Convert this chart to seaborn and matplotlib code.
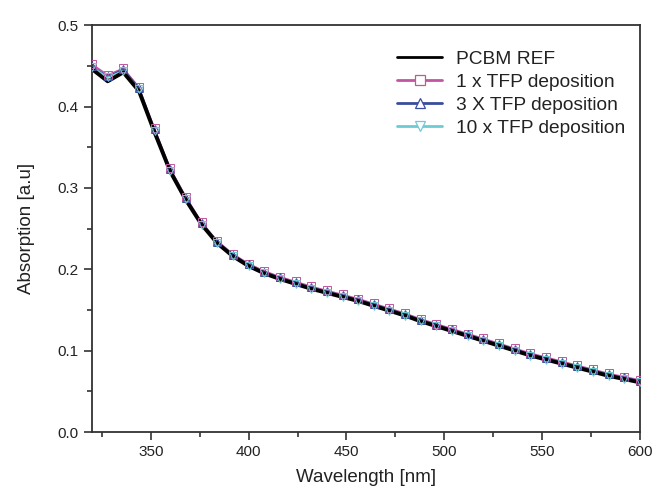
import matplotlib
matplotlib.use("Agg")
import matplotlib.pyplot as plt
import seaborn as sns
import pandas as pd
from matplotlib.ticker import MultipleLocator, FormatStrFormatter
from matplotlib.lines import Line2D

sns.set_theme(style="white")
plt.rcParams['font.family'] = ['Liberation Sans', 'DejaVu Sans']

wavelength = [320, 328, 336, 344, 352, 360, 368, 376, 384, 392, 400, 408, 416, 424,
              432, 440, 448, 456, 464, 472, 480, 488, 496, 504, 512, 520, 528, 536,
              544, 552, 560, 568, 576, 584, 592, 600]
pcbm_ref = [0.446, 0.431, 0.442, 0.419, 0.368, 0.320, 0.285, 0.255, 0.232, 0.216,
            0.204, 0.195, 0.188, 0.182, 0.176, 0.171, 0.166, 0.161, 0.155, 0.149,
            0.143, 0.136, 0.130, 0.124, 0.118, 0.112, 0.106, 0.100, 0.094, 0.089,
            0.084, 0.079, 0.074, 0.069, 0.065, 0.061]
tfp_1x = [0.452, 0.439, 0.447, 0.424, 0.373, 0.324, 0.289, 0.258, 0.235, 0.219,
          0.207, 0.198, 0.191, 0.185, 0.179, 0.174, 0.169, 0.164, 0.158, 0.152,
          0.146, 0.139, 0.133, 0.127, 0.121, 0.115, 0.109, 0.103, 0.097, 0.092,
          0.087, 0.082, 0.077, 0.072, 0.068, 0.064]
tfp_3x = [0.450, 0.437, 0.446, 0.423, 0.372, 0.323, 0.288, 0.257, 0.234, 0.218,
          0.206, 0.197, 0.190, 0.184, 0.178, 0.173, 0.168, 0.163, 0.157, 0.151,
          0.145, 0.138, 0.132, 0.126, 0.120, 0.114, 0.108, 0.102, 0.096, 0.091,
          0.086, 0.081, 0.076, 0.071, 0.067, 0.063]
tfp_10x = [0.449, 0.436, 0.444, 0.421, 0.370, 0.321, 0.286, 0.255, 0.232, 0.216,
           0.204, 0.195, 0.188, 0.182, 0.176, 0.171, 0.166, 0.161, 0.155, 0.149,
           0.143, 0.136, 0.130, 0.124, 0.118, 0.112, 0.106, 0.100, 0.094, 0.089,
           0.084, 0.079, 0.074, 0.069, 0.065, 0.061]

labels = ["PCBM REF", "1 x TFP deposition", "3 X TFP deposition", "10 x TFP deposition"]
colors = ["black", "#c2559f", "#3a4c9e", "#6ccbd3"]
markers = [None, "s", "^", "v"]

fig = plt.figure(figsize=(6.54, 4.93), dpi=100)
ax = fig.add_axes([0.1407, 0.1237, 0.8379, 0.8253])

series = [pcbm_ref, tfp_1x, tfp_3x, tfp_10x]
frames = [pd.DataFrame({"x": wavelength, "y": v}) for v in series]

# coloured lines underneath
for i in range(1, 4):
    sns.lineplot(data=frames[i], x="x", y="y", ax=ax, color=colors[i], lw=1.0,
                 legend=False, zorder=2)
# black reference line
sns.lineplot(data=frames[0], x="x", y="y", ax=ax, color=colors[0], lw=2.8,
             legend=False, zorder=3)
# hollow markers on top
for i in range(1, 4):
    sns.lineplot(data=frames[i], x="x", y="y", ax=ax, color=colors[i],
                 linestyle="", marker=markers[i], markersize=5.2,
                 markerfacecolor="none", markeredgecolor=colors[i],
                 markeredgewidth=0.7, legend=False, zorder=4 + i)
    ax.lines[-1].set_markerfacecolor("none")

handles = [Line2D([], [], color=colors[0], lw=2.0)]
for i in range(1, 4):
    handles.append(Line2D([], [], color=colors[i], lw=2.0, marker=markers[i],
                          markersize=7, markerfacecolor="white",
                          markeredgecolor=colors[i], markeredgewidth=0.9))

ax.set_xlim(320, 600)
ax.set_ylim(0.0, 0.5)
ax.xaxis.set_major_locator(MultipleLocator(50))
ax.xaxis.set_minor_locator(MultipleLocator(25))
ax.yaxis.set_major_locator(MultipleLocator(0.1))
ax.yaxis.set_minor_locator(MultipleLocator(0.05))
ax.yaxis.set_major_formatter(FormatStrFormatter('%.1f'))
ax.tick_params(axis='both', which='major', direction='out', length=5.5, width=1.2,
               labelsize=11, pad=4, bottom=True, left=True, color='#333333',
               labelcolor='#222222')
ax.tick_params(axis='both', which='minor', direction='out', length=3.5, width=1.2,
               bottom=True, left=True, color='#333333')
for sp in ax.spines.values():
    sp.set_color('#333333')
    sp.set_linewidth(1.3)

ax.set_xlabel("Wavelength [nm]", fontsize=13.5, labelpad=7, color='#222222')
ax.set_ylabel("Absorption [a.u]", fontsize=13.5, labelpad=16, color='#222222')

leg = ax.legend(handles, labels, loc="upper left", bbox_to_anchor=(0.550, 0.948),
                frameon=False, fontsize=13.8, handlelength=2.35, labelspacing=0.3,
                handletextpad=0.7, borderaxespad=0.0, borderpad=0.2)
for t in leg.get_texts():
    t.set_color('#222222')

fig.savefig("out.png", dpi=100)
